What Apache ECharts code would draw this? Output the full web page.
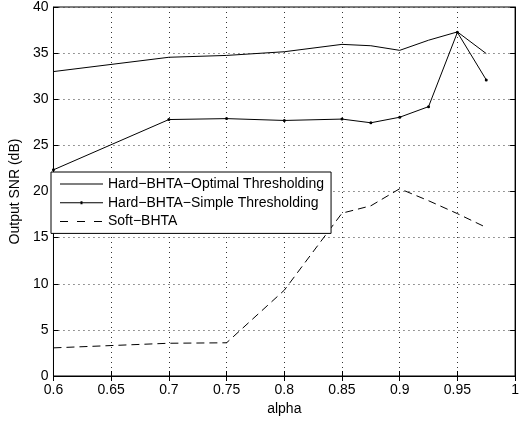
<!DOCTYPE html>
<html>
<head>
<meta charset="utf-8">
<script src="https://cdn.jsdelivr.net/npm/echarts@6/dist/echarts.min.js"></script>
<style>html,body{margin:0;padding:0;background:#fff}#c{width:522px;height:422px}</style>
</head>
<body>
<div id="c"></div>
<script>
var alpha = [0.6, 0.7, 0.75, 0.8, 0.85, 0.875, 0.9, 0.925, 0.95, 0.975];
var optimal = [33.0, 34.55, 34.75, 35.15, 35.95, 35.8, 35.3, 36.4, 37.3, 34.95];
var simple = [22.35, 27.8, 27.9, 27.7, 27.85, 27.45, 28.05, 29.2, 37.25, 32.1];
var soft = [3.05, 3.55, 3.6, 9.3, 17.65, 18.45, 20.3, 19.0, 17.6, 16.1];
var seriesNames = ['Hard\u2212BHTA\u2212Optimal Thresholding', 'Hard\u2212BHTA\u2212Simple Thresholding', 'Soft\u2212BHTA'];
var xTicks = {min: 0.6, max: 1, interval: 0.05};
var yTicks = {min: 0, max: 40, interval: 5};

function pairs(xs, ys) { return xs.map(function (x, i) { return [x, ys[i]]; }); }

// legend icon shapes (bounding corners keep the 43x14 box unstretched)
var bounds = 'M0,0 h0.01 v0.01 h-0.01 Z M42.99,13.99 h0.01 v0.01 h-0.01 Z ';
var iconSolid = 'path://' + bounds + 'M0,6.5 H43 V7.5 H0 Z';
var iconDot = 'path://' + bounds + 'M0,6.5 H43 V7.5 H0 Z M20.5,5.5 H22.5 V8.5 H20.5 Z';
var iconDash = 'path://' + bounds + 'M0,6.5 H8 V7.5 H0 Z M17,6.5 H25 V7.5 H17 Z M34,6.5 H42 V7.5 H34 Z';

var font = 'Liberation Sans, Arial, Helvetica, sans-serif';
var chart = echarts.init(document.getElementById('c'), null, {renderer: 'canvas'});
var grid = {left: 52, right: 1, top: 6, bottom: 46, show: true, borderColor: '#000', borderWidth: 1, backgroundColor: 'transparent'};
var splitLine = {show: true, lineStyle: {color: '#333', width: 1, type: [1, 4]}};
chart.setOption({
  animation: false,
  backgroundColor: '#fff',
  grid: grid,
  legend: {
    orient: 'vertical', left: 51, top: 172,
    itemWidth: 43, itemHeight: 14, itemGap: 4.7,
    padding: [5, 7, 5, 9],
    borderColor: '#000', borderWidth: 1, backgroundColor: '#fff',
    textStyle: {fontFamily: font, fontSize: 14, color: '#000'},
    data: [
      {name: seriesNames[0], icon: iconSolid},
      {name: seriesNames[1], icon: iconDot},
      {name: seriesNames[2], icon: iconDash}
    ]
  },
  xAxis: [{
    type: 'value', min: xTicks.min, max: xTicks.max, interval: xTicks.interval,
    name: 'alpha', nameLocation: 'middle', nameGap: 17,
    nameTextStyle: {fontFamily: font, fontSize: 14, color: '#000'},
    axisLine: {show: true, lineStyle: {color: '#000'}},
    axisTick: {show: true, inside: true, length: 5, lineStyle: {color: '#000'}},
    axisLabel: {fontFamily: font, fontSize: 14, color: '#000', margin: 7,
      formatter: function (v) { return String(+v.toFixed(2)); }},
    splitLine: splitLine
  }, {
    type: 'value', position: 'top', min: xTicks.min, max: xTicks.max, interval: xTicks.interval,
    axisLine: {show: true, lineStyle: {color: '#000'}},
    axisTick: {show: true, inside: true, length: 5, lineStyle: {color: '#000'}},
    axisLabel: {show: false}, splitLine: {show: false}
  }],
  yAxis: [{
    type: 'value', min: yTicks.min, max: yTicks.max, interval: yTicks.interval,
    name: 'Output SNR (dB)', nameLocation: 'middle', nameGap: 28,
    nameTextStyle: {fontFamily: font, fontSize: 14, color: '#000'},
    axisLine: {show: true, lineStyle: {color: '#000'}},
    axisTick: {show: true, inside: true, length: 5, lineStyle: {color: '#000'}},
    axisLabel: {fontFamily: font, fontSize: 14, color: '#000', margin: 5},
    splitLine: splitLine
  }, {
    type: 'value', position: 'right', min: yTicks.min, max: yTicks.max, interval: yTicks.interval,
    axisLine: {show: true, lineStyle: {color: '#000'}},
    axisTick: {show: true, inside: true, length: 5, lineStyle: {color: '#000'}},
    axisLabel: {show: false}, splitLine: {show: false}
  }],
  series: [{
    name: seriesNames[0], type: 'line', data: pairs(alpha, optimal),
    symbol: 'none', color: '#000', lineStyle: {color: '#000', width: 1}
  }, {
    name: seriesNames[1], type: 'line', data: pairs(alpha, simple),
    symbol: 'circle', symbolSize: 3, color: '#000',
    itemStyle: {color: '#000'}, lineStyle: {color: '#000', width: 1}
  }, {
    name: seriesNames[2], type: 'line', data: pairs(alpha, soft),
    symbol: 'none', color: '#000', lineStyle: {color: '#000', width: 1, type: [8, 5]}
  }]
});
</script>
</body>
</html>
